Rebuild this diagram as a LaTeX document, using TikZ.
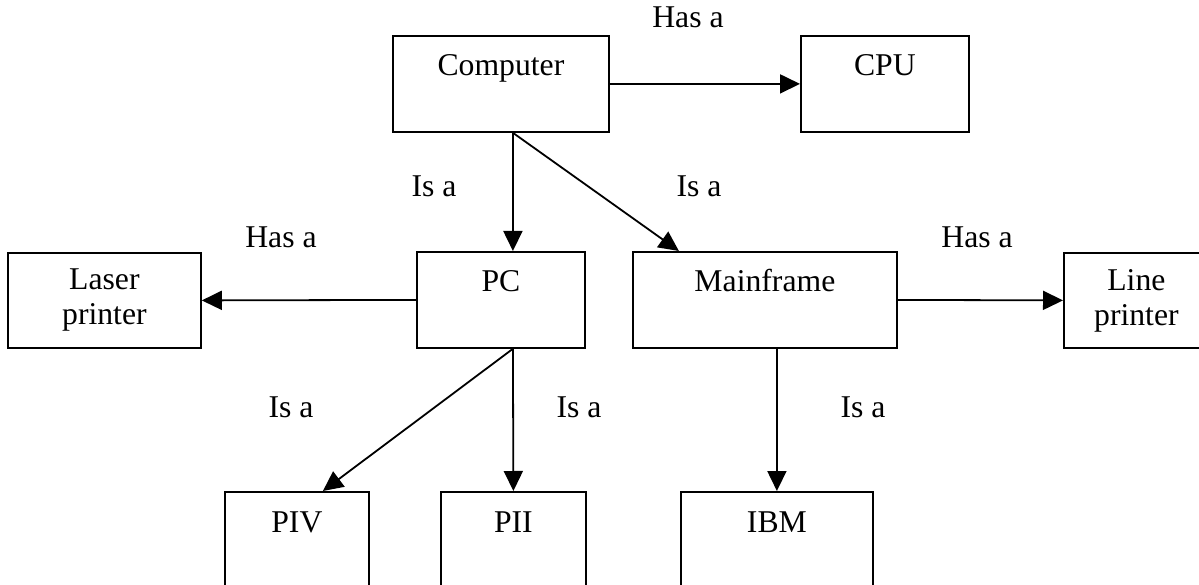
\documentclass[tikz,border=0pt]{standalone}
\usepackage{fontspec}
\setmainfont{Liberation Serif}
\usetikzlibrary{arrows.meta}
\begin{document}
\begin{tikzpicture}[x=1pt,y=-1pt,
  every node/.style={font=\fontsize{31.7}{35}\selectfont},
  box/.style={draw, line width=1.8pt, rectangle, inner sep=0pt, anchor=north west},
  topbox/.style={box, text height=40pt, text depth=56pt},
  openbox/.style={box, text height=41pt, text depth=120pt},
  twobox/.style={box, align=center, minimum height=95pt},
  conn/.style={line width=1.8pt, -{Triangle[length=20pt,width=19pt]}},
  lbl/.style={anchor=base, inner sep=0pt}]
\useasboundingbox (0,0) rectangle (1199,585);
% boxes
\node[topbox, minimum width=216pt] (comp) at (392,35) {Computer};
\node[topbox, minimum width=168pt] (cpu) at (800,35) {CPU};
\node[topbox, minimum width=168pt] (pc) at (416,251) {PC};
\node[twobox, minimum width=193pt] (laser) at (7,252) {Laser\\printer};
\node[topbox, minimum width=264pt] (mf) at (632,251) {Mainframe};
\node[twobox, minimum width=145pt] (line) at (1063,252) {Line\\printer};
\node[openbox, minimum width=144pt] (piv) at (224,491) {PIV};
\node[openbox, minimum width=145pt] (pii) at (440,491) {PII};
\node[openbox, minimum width=192pt] (ibm) at (680,491) {IBM};
% connectors
\draw[conn] (comp.east) -- (cpu.west);
\draw[conn] ([xshift=12pt]comp.south) -- ([xshift=12pt]pc.north);
\draw[conn] ([xshift=12pt]comp.south) -- ([xshift=-86pt]mf.north);
\draw[conn] (pc.west) -- (laser.east);
\draw[conn] (mf.east) -- (line.west);
\draw[conn] ([xshift=12pt]pc.south) -- ([xshift=26pt]piv.north);
\draw[conn] ([xshift=12pt]pc.south) -- (pii.north);
\draw[conn] ([xshift=12pt]mf.south) -- (ibm.north);
% labels
\node[lbl] (l1) at (688,28) {Has a};
\node[lbl] (l2) at (434,197) {Is a};
\node[lbl] (l3) at (699,197) {Is a};
\node[lbl] (l4) at (281,248) {Has a};
\node[lbl] (l5) at (977,248) {Has a};
\node[lbl] (l6) at (291,417) {Is a};
\node[lbl] (l7) at (579,417) {Is a};
\node[lbl] (l8) at (863,417) {Is a};
\end{tikzpicture}
\end{document}
